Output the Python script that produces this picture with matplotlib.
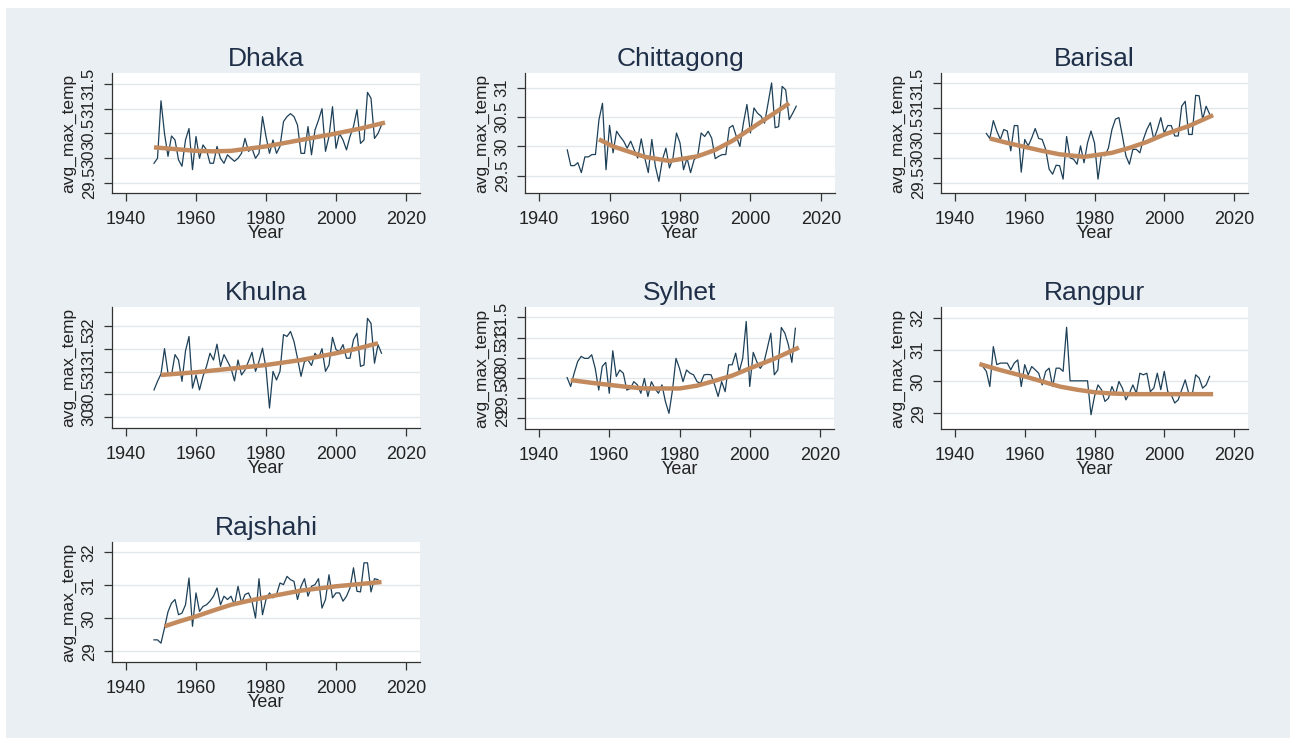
"""Grid of yearly average maximum temperature per station with fitted trend."""
import matplotlib.pyplot as plt
from matplotlib.patches import Rectangle
from matplotlib.ticker import FuncFormatter

# Yearly average maximum temperature.
dhaka_years = list(range(1948, 2014))
dhaka_temp = [
    29.9, 30.0, 31.16, 30.5, 30.04, 30.45, 30.37, 29.97, 29.84, 30.37,
    30.6, 29.77, 30.44, 30.0, 30.27, 30.17, 29.9, 29.9, 30.24, 30.0,
    29.9, 30.07, 30.0, 29.94, 30.0, 30.1, 30.4, 30.14, 30.2, 30.0,
    30.1, 30.84, 30.44, 30.1, 30.37, 30.1, 30.24, 30.74, 30.84, 30.9,
    30.84, 30.67, 30.1, 30.1, 30.64, 30.07, 30.57, 30.77, 31.0, 30.14,
    30.44, 31.04, 30.2, 30.5, 30.37, 30.17, 30.44, 30.64, 30.98, 30.3,
    30.37, 31.33, 31.21, 30.4, 30.5, 30.67,
]
dhaka_fit_years = [1948, 1955, 1960, 1965, 1970, 1980, 1990, 2000, 2007, 2014]
dhaka_fit = [30.22, 30.18, 30.15, 30.14, 30.15, 30.24, 30.37, 30.5, 30.6, 30.72]

chittagong_years = list(range(1948, 2014))
chittagong_temp = [
    29.94, 29.67, 29.67, 29.72, 29.55, 29.82, 29.82, 29.86, 29.86, 30.46,
    30.74, 29.6, 30.36, 29.89, 30.26, 30.17, 30.09, 29.97, 30.09, 29.94,
    29.8, 30.13, 29.8, 29.55, 30.12, 29.66, 29.4, 29.77, 29.97, 29.63,
    29.8, 30.23, 30.06, 29.6, 29.8, 29.55, 29.77, 29.83, 30.23, 30.17,
    30.26, 30.14, 29.79, 29.83, 29.86, 29.86, 30.32, 30.36, 30.17, 30.0,
    30.4, 30.72, 30.23, 30.66, 30.57, 30.52, 30.4, 30.74, 31.09, 30.32,
    30.34, 31.03, 30.97, 30.46, 30.57, 30.69,
]
chittagong_fit_years = [1957, 1961, 1965, 1970, 1977, 1985, 1990, 1995, 2000, 2005, 2011]
chittagong_fit = [30.12, 30.0, 29.92, 29.82, 29.75, 29.83, 29.94, 30.1, 30.3, 30.5, 30.74]

barisal_years = list(range(1949, 2014))
barisal_temp = [
    30.49, 30.39, 30.75, 30.54, 30.37, 30.57, 30.54, 30.14, 30.65, 30.65,
    29.71, 30.37, 30.24, 30.4, 30.59, 30.39, 30.37, 30.17, 29.77, 29.67,
    29.85, 29.84, 29.57, 30.43, 30.0, 29.97, 29.87, 30.24, 29.9, 30.3,
    30.54, 30.3, 29.57, 30.07, 30.04, 30.2, 30.57, 30.78, 30.81, 30.44,
    30.04, 29.87, 30.17, 30.17, 30.1, 30.37, 30.57, 30.71, 30.37, 30.57,
    30.81, 30.5, 30.65, 30.65, 30.44, 30.44, 31.04, 31.14, 30.47, 30.47,
    31.26, 31.25, 30.78, 31.04, 30.88,
]
barisal_fit_years = [1950, 1955, 1960, 1965, 1970, 1977, 1985, 1990, 1995, 2000, 2007, 2014]
barisal_fit = [30.39, 30.3, 30.22, 30.14, 30.07, 30.02, 30.1, 30.2, 30.32, 30.47, 30.64, 30.86]

khulna_years = list(range(1948, 2014))
khulna_temp = [
    30.6, 30.79, 30.95, 31.51, 30.97, 30.93, 31.38, 31.26, 30.79, 31.46,
    31.78, 30.64, 30.93, 30.6, 30.9, 31.12, 31.41, 31.26, 31.61, 31.12,
    31.38, 31.23, 31.08, 30.8, 31.26, 30.93, 31.04, 31.23, 31.43, 31.01,
    31.23, 31.52, 31.08, 30.2, 31.01, 30.82, 31.01, 31.82, 31.78, 31.89,
    31.67, 31.3, 30.9, 31.23, 31.26, 31.14, 31.41, 31.3, 31.51, 31.01,
    31.15, 31.76, 31.49, 31.45, 31.6, 31.3, 31.3, 31.71, 31.85, 31.12,
    31.15, 32.18, 32.07, 31.19, 31.6, 31.41,
]
khulna_fit_years = [1950, 1960, 1970, 1980, 1990, 2000, 2006, 2012]
khulna_fit = [30.93, 30.99, 31.07, 31.15, 31.26, 31.41, 31.51, 31.63]

sylhet_years = list(range(1948, 2014))
sylhet_temp = [
    30.0, 29.78, 30.11, 30.4, 30.53, 30.48, 30.48, 30.57, 30.23, 29.69,
    30.28, 30.38, 29.61, 30.67, 30.03, 30.19, 30.11, 29.69, 29.73, 29.9,
    29.82, 29.61, 29.98, 29.53, 29.9, 29.73, 29.61, 29.82, 29.4, 29.11,
    29.69, 30.48, 30.23, 29.9, 30.19, 30.11, 30.07, 29.9, 29.86, 30.07,
    30.08, 30.07, 29.82, 29.53, 29.9, 29.65, 30.32, 30.32, 30.61, 30.15,
    30.48, 31.4, 29.78, 30.63, 30.4, 30.23, 30.36, 30.73, 31.11, 30.07,
    30.19, 31.25, 31.11, 30.82, 30.38, 31.23,
]
sylhet_fit_years = [1949, 1955, 1960, 1965, 1970, 1980, 1985, 1990, 1995, 2000, 2007, 2014]
sylhet_fit = [29.94, 29.87, 29.82, 29.77, 29.73, 29.73, 29.8, 29.92, 30.05, 30.23, 30.47, 30.75]

rangpur_years = list(range(1948, 2014))
rangpur_temp = [
    30.47, 30.32, 29.84, 31.1, 30.53, 30.58, 30.58, 30.58, 30.37, 30.58,
    30.68, 29.84, 30.53, 30.21, 30.47, 30.37, 30.26, 29.89, 30.32, 30.42,
    29.84, 30.42, 30.42, 30.32, 31.71, 30.02, 30.02, 30.02, 30.02, 30.02,
    30.02, 28.95, 29.53, 29.89, 29.74, 29.37, 29.47, 29.84, 29.58, 30.0,
    29.79, 29.42, 29.63, 29.89, 29.63, 30.26, 30.21, 30.26, 29.68, 29.79,
    30.26, 29.74, 30.32, 29.68, 29.58, 29.32, 29.42, 29.74, 30.05, 29.63,
    29.58, 30.21, 30.11, 29.79, 29.89, 30.16,
]
rangpur_fit_years = [1947, 1953, 1960, 1965, 1970, 1975, 1980, 1985, 1990, 2000, 2014]
rangpur_fit = [30.55, 30.36, 30.16, 30.0, 29.84, 29.74, 29.66, 29.62, 29.6, 29.6, 29.6]

rajshahi_years = list(range(1948, 2013))
rajshahi_temp = [
    29.35, 29.35, 29.25, 29.71, 30.2, 30.46, 30.57, 30.11, 30.16, 30.41,
    31.22, 29.76, 30.77, 30.21, 30.36, 30.41, 30.52, 30.67, 30.92, 30.41,
    30.67, 30.57, 30.67, 30.41, 30.97, 30.46, 30.72, 30.77, 30.52, 30.01,
    31.2, 30.11, 30.57, 30.77, 30.62, 30.72, 31.07, 31.02, 31.27, 31.17,
    31.12, 30.57, 30.97, 31.2, 30.67, 30.97, 31.02, 31.2, 30.31, 30.57,
    31.32, 30.62, 30.77, 30.77, 30.52, 30.67, 30.92, 31.53, 30.82, 30.8,
    31.68, 31.68, 30.8, 31.2, 31.17,
]
rajshahi_fit_years = [1951, 1955, 1960, 1965, 1970, 1975, 1980, 1990, 2000, 2013]
rajshahi_fit = [29.76, 29.9, 30.06, 30.24, 30.41, 30.53, 30.64, 30.84, 30.97, 31.1]

# name, years, values, fit years, fit values, y ticks, y limits,
# plot box in pixels (left, top, right, bottom).
PANELS = [
    ("Dhaka", dhaka_years, dhaka_temp, dhaka_fit_years, dhaka_fit,
     [29.5, 30, 30.5, 31, 31.5], (29.30, 31.72), (112, 73, 420, 193)),
    ("Chittagong", chittagong_years, chittagong_temp, chittagong_fit_years,
     chittagong_fit, [29.5, 30, 30.5, 31], (29.20, 31.26), (525, 73, 835, 193)),
    ("Barisal", barisal_years, barisal_temp, barisal_fit_years, barisal_fit,
     [29.5, 30, 30.5, 31, 31.5], (29.29, 31.71), (941, 73, 1248, 193)),
    ("Khulna", khulna_years, khulna_temp, khulna_fit_years, khulna_fit,
     [30, 30.5, 31, 31.5, 32], (29.76, 32.43), (112, 307, 420, 428)),
    ("Sylhet", sylhet_years, sylhet_temp, sylhet_fit_years, sylhet_fit,
     [29, 29.5, 30, 30.5, 31, 31.5], (28.72, 31.76), (525, 307, 834, 429)),
    ("Rangpur", rangpur_years, rangpur_temp, rangpur_fit_years, rangpur_fit,
     [29, 30, 31, 32], (28.50, 32.35), (941, 307, 1248, 429)),
    ("Rajshahi", rajshahi_years, rajshahi_temp, rajshahi_fit_years,
     rajshahi_fit, [29, 30, 31, 32], (28.68, 32.31), (112, 542, 420, 662)),
]

W, H = 1290, 738
BG = "#e9eff2"
LINE = "#1d4058"
FIT = "#c38a5e"
TEXT = "#1f2f48"

plt.rcParams["font.family"] = ["Liberation Sans", "DejaVu Sans"]

fig = plt.figure(figsize=(W / 100, H / 100), dpi=100, facecolor="white")
fig.patches.append(
    Rectangle((6 / W, 0), 1, 1 - 8 / H, transform=fig.transFigure,
              facecolor=BG, edgecolor="none", zorder=-10)
)

for name, years, temp, fit_years, fit, yticks, ylim, box in PANELS:
    left, top, right, bottom = box
    ax = fig.add_axes([left / W, 1 - bottom / H, (right - left) / W, (bottom - top) / H])
    ax.set_facecolor("white")
    ax.plot(years, temp, color=LINE, lw=0.9, zorder=3)
    ax.plot(fit_years, fit, color=FIT, lw=3.2, solid_capstyle="butt", zorder=4)
    ax.set_xlim(1936, 2024)
    ax.set_ylim(*ylim)
    ax.set_xticks([1940, 1960, 1980, 2000, 2020])
    ax.set_yticks(yticks)
    ax.yaxis.set_major_formatter(FuncFormatter(lambda v, _: f"{v:g}"))
    ax.grid(axis="y", color="#e1e7ea", lw=1)
    ax.set_axisbelow(True)
    for side in ("top", "right"):
        ax.spines[side].set_visible(False)
    for side in ("left", "bottom"):
        ax.spines[side].set_color("#333333")
        ax.spines[side].set_linewidth(0.9)
    ax.tick_params(axis="both", length=6, width=0.9, color="#333333",
                   labelcolor="#222222")
    ax.tick_params(axis="x", labelsize=13, pad=7)
    ax.tick_params(axis="y", labelsize=12, pad=5)
    for lab in ax.get_yticklabels():
        lab.set_rotation(90)
        lab.set_va("center")
    ax.set_title(name, fontsize=19, color=TEXT, pad=5)
    ax.set_xlabel("Year", fontsize=13, color="#222222", labelpad=-2)
    ax.set_ylabel("avg_max_temp", fontsize=12.5, color="#222222", labelpad=4)

fig.savefig("out.png", dpi=100, facecolor=fig.get_facecolor())
